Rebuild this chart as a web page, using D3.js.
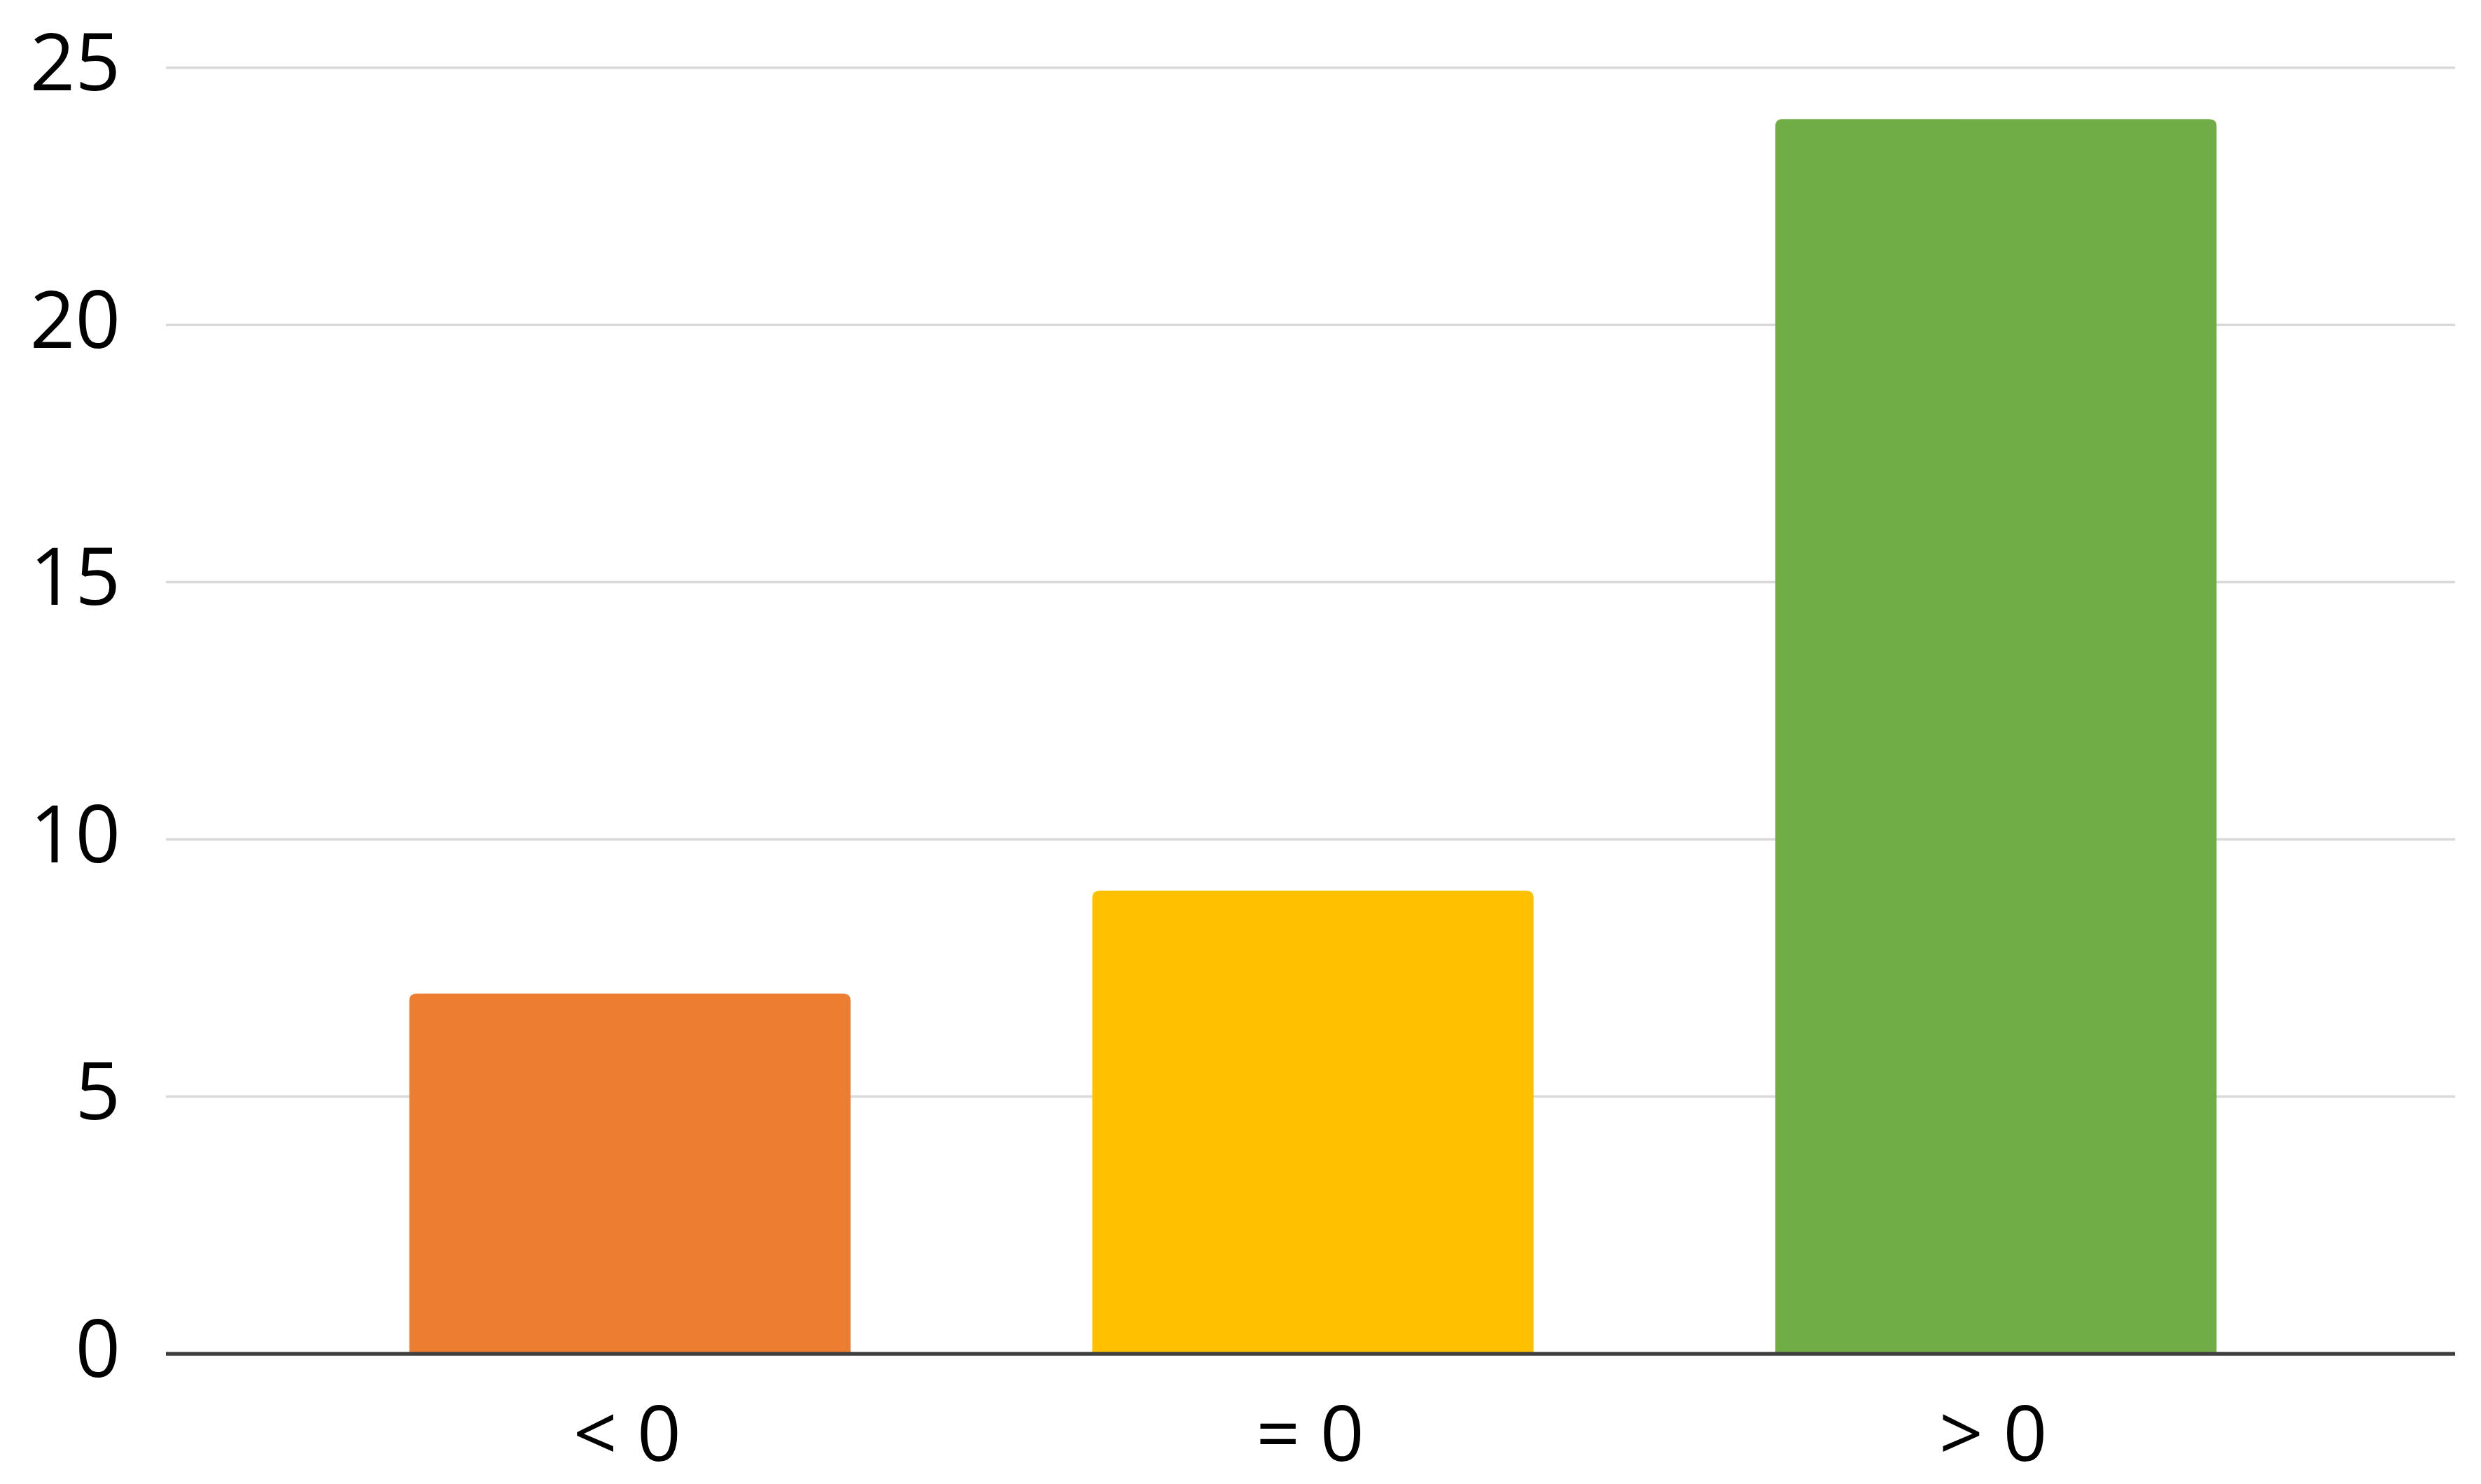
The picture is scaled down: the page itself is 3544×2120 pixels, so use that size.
<!DOCTYPE html>
<html><head><meta charset="utf-8">
<script src="https://cdn.jsdelivr.net/npm/d3@7"></script>
<style>html,body{margin:0;padding:0;background:#fff;}svg{display:block;}</style>
</head><body>
<script>
const categories = ["< 0", "= 0", "> 0"];
const values = [7, 9, 24];
const colors = ["#ED7D31", "#FFC000", "#70AD47"];
const yTicks = [0, 5, 10, 15, 20, 25];

const W = 3544, H = 2120;
const svg = d3.select("body").append("svg").attr("width", W).attr("height", H);
const gridX0 = 237, gridX1 = 3507;
const y = d3.scaleLinear().domain([0, 25]).range([1934, 96.7]);
const x = d3.scaleBand().domain(categories).range([412, 3339]).paddingInner(0.354).paddingOuter(0.177);
const font = "'Open Sans', 'Noto Sans', sans-serif";

// gridlines
svg.append("g").selectAll("line").data(yTicks.filter(d => d !== 0)).join("line")
  .attr("x1", gridX0).attr("x2", gridX1)
  .attr("y1", d => y(d)).attr("y2", d => y(d))
  .attr("stroke", "#D9D9D9").attr("stroke-width", 3.5);

// y axis labels
const yAxis = d3.axisLeft(y).tickValues(yTicks).tickSize(0).tickPadding(0);
const gy = svg.append("g").attr("transform", `translate(172,0)`).call(yAxis);
gy.select(".domain").remove();
gy.selectAll("text").attr("font-family", font).attr("font-size", 113).attr("fill", "#000")
  .attr("dy", null).attr("y", 32).attr("text-anchor", "end");

// bars with rounded top corners
const r = 10;
function barPath(x0, w, yTop, yBase) {
  return `M${x0},${yBase}V${yTop + r}Q${x0},${yTop} ${x0 + r},${yTop}H${x0 + w - r}Q${x0 + w},${yTop} ${x0 + w},${yTop + r}V${yBase}Z`;
}
svg.append("g").selectAll("path").data(categories).join("path")
  .attr("d", (c, i) => barPath(x(c), x.bandwidth(), y(values[i]), y(0)))
  .attr("fill", (c, i) => colors[i]);

// x axis
const xAxis = d3.axisBottom(x).tickSize(0).tickPadding(0);
const gx = svg.append("g").attr("transform", `translate(0,${y(0)})`).call(xAxis);
gx.select(".domain").remove();
gx.selectAll("text").attr("font-family", font).attr("font-size", 110).attr("fill", "#000")
  .attr("dy", null).attr("y", 153).attr("dx", -4);
svg.append("line").attr("x1", gridX0).attr("x2", gridX1).attr("y1", y(0)).attr("y2", y(0))
  .attr("stroke", "#404040").attr("stroke-width", 5.5);
</script>
</body></html>
